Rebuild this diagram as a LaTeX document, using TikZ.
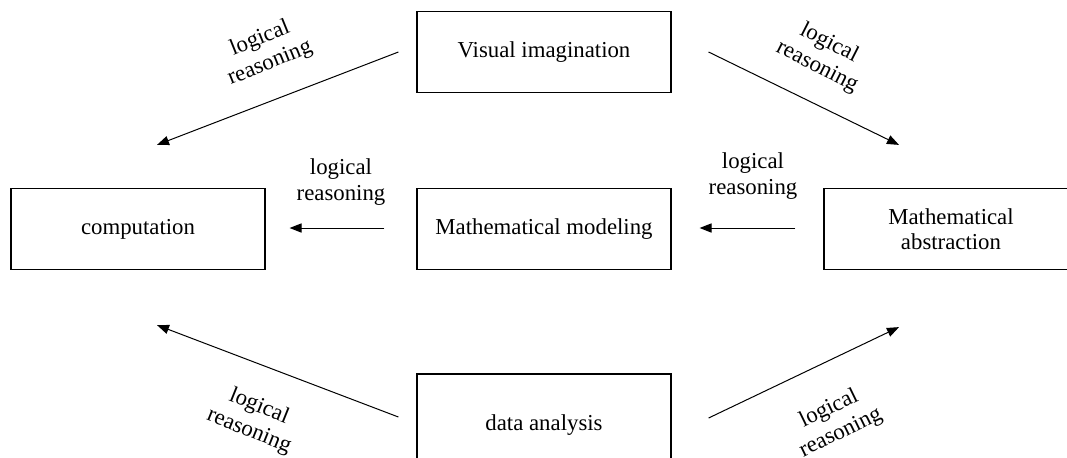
\documentclass[tikz,border=0pt]{standalone}
\usepackage{fontspec}
\setmainfont{Liberation Serif}
\usetikzlibrary{arrows.meta}

\begin{document}
\begin{tikzpicture}[x=0.5pt,y=-0.5pt,>={Stealth[length=6pt,width=4.6pt,inset=0pt]},
  box/.style={draw,line width=0.6pt,minimum width=127pt,minimum height=40.5pt,align=center,font=\fontsize{11.4}{12.2}\selectfont},
  flow/.style={->,line width=0.5pt},
  lbl/.style={align=center,inner sep=0pt,font=\fontsize{11.4}{13.2}\selectfont}]
  \useasboundingbox (0,0) rectangle (1067,457);
  % the five boxes
  \node[box] (vis) at (544,52) {Visual imagination};
  \node[box] (comp) at (138,229) {computation};
  \node[box] (mod) at (544,229) {Mathematical modeling};
  \node[box] (abs) at (951,229) {Mathematical\\abstraction};
  \node[box,minimum height=51pt] (data) at (544,425) {data analysis};
  % arrows
  \draw[flow]([shift={(-18,0)}]vis.west)--([shift={(19,-43)}]comp.north);
  \draw[flow]([shift={(37,0)}]vis.east)--([shift={(-52,-43)}]abs.north);
  \draw[flow]([shift={(-32,-1)}]mod.west)--([shift={(24,-1)}]comp.east);
  \draw[flow]([shift={(-28,-1)}]abs.west)--([shift={(28,-1)}]mod.east);
  \draw[flow]([shift={(-18,-8)}]data.west)--([shift={(19,55)}]comp.south);
  \draw[flow]([shift={(37,-7)}]data.east)--([shift={(-52,57)}]abs.south);
  % labels
  \node[lbl,rotate=22] (lrvc) at (265,51) {logical\\reasoning};
  \node[lbl,rotate=-27] (lrva) at (823,55) {logical\\reasoning};
  \node[lbl] (lrmc) at (341,182) {logical\\reasoning};
  \node[lbl] (lram) at (753,176) {logical\\reasoning};
  \node[lbl,rotate=-22] (lrdc) at (254,419) {logical\\reasoning};
  \node[lbl,rotate=26] (lrda) at (835,421) {logical\\reasoning};
\end{tikzpicture}
\end{document}
